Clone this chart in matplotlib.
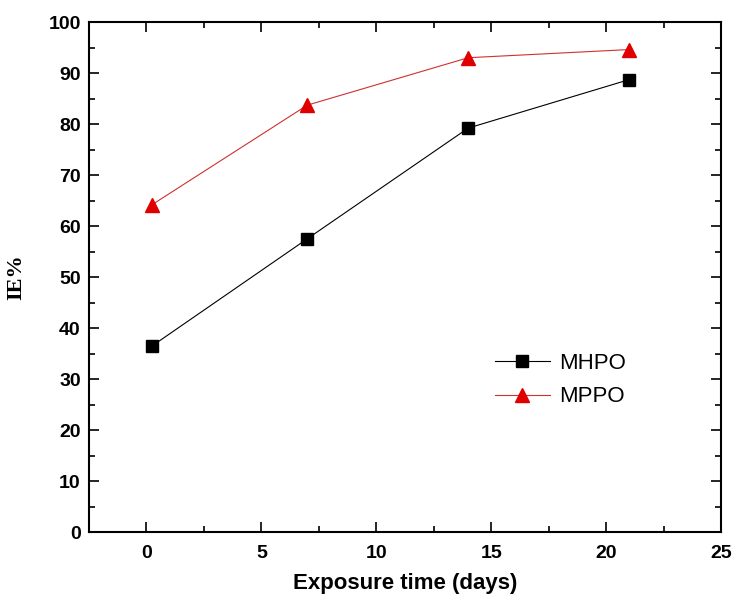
import matplotlib.pyplot as plt
from matplotlib.ticker import MultipleLocator

# exposure time (days) and inhibition efficiency IE%
days = [0.25, 7, 14, 21]
ie_mhpo = [36.5, 57.5, 79.2, 88.7]
ie_mppo = [64.2, 83.7, 93.0, 94.6]

fig = plt.figure(figsize=(7.33, 6), dpi=100)
ax = fig.add_axes([0.1214, 0.1133, 0.8622, 0.85])

ax.plot(days, ie_mhpo, color='black', lw=0.8, marker='s', ms=8,
        mfc='black', mec='black', label='MHPO')
ax.plot(days, ie_mppo, color='#d03030', lw=0.8, marker='^', ms=10,
        mfc='#e00000', mec='#e00000', label='MPPO')

ax.set_xlim(-2.5, 25)
ax.set_ylim(0, 100)
ax.xaxis.set_major_locator(MultipleLocator(5))
ax.xaxis.set_minor_locator(MultipleLocator(2.5))
ax.yaxis.set_major_locator(MultipleLocator(10))
ax.yaxis.set_minor_locator(MultipleLocator(5))

ax.tick_params(which='both', direction='in', top=True, right=True, width=1.2)
ax.tick_params(which='major', length=7)
ax.tick_params(which='minor', length=4)
for s in ax.spines.values():
    s.set_linewidth(1.5)

for lab in ax.get_xticklabels() + ax.get_yticklabels():
    lab.set_fontfamily('Liberation Sans')
    lab.set_fontweight('bold')
    lab.set_fontsize(14)
ax.tick_params(axis='x', pad=9)
ax.tick_params(axis='y', pad=6)

ax.set_xlabel('Exposure time (days)', fontfamily='Liberation Sans',
              fontweight='bold', fontsize=16, labelpad=8)
ax.set_ylabel('IE%', fontfamily='Liberation Serif', fontweight='bold',
              fontsize=16, labelpad=16)

leg = ax.legend(loc='upper left', bbox_to_anchor=(0.61, 0.39), frameon=False,
                prop={'family': 'Liberation Sans', 'size': 16},
                handlelength=2.5, handletextpad=0.4, labelspacing=0.55)

fig.savefig('out.png', dpi=100)
